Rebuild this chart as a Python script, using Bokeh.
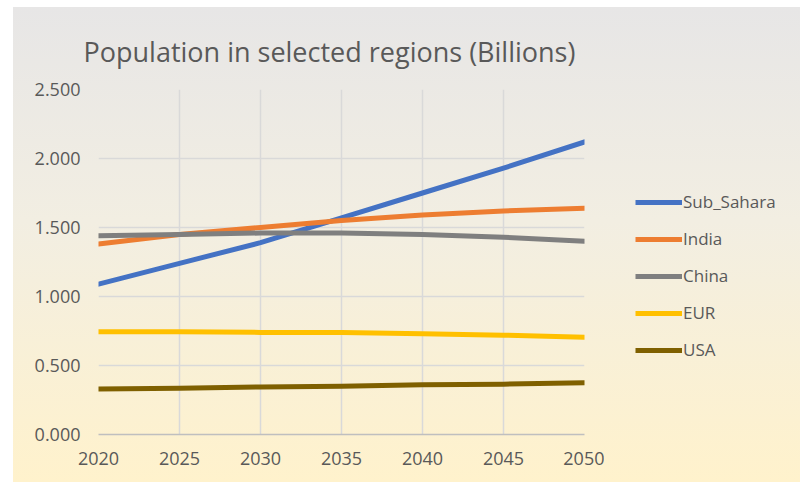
from bokeh.plotting import figure
from bokeh.layouts import row
from bokeh.models import Range1d, PrintfTickFormatter, FixedTicker, Legend, LegendItem
from bokeh.embed import file_html
from bokeh.resources import INLINE

years = [2020, 2025, 2030, 2035, 2040, 2045, 2050]
sub_sahara = [1.09, 1.24, 1.39, 1.57, 1.75, 1.93, 2.12]
india = [1.38, 1.45, 1.50, 1.55, 1.59, 1.62, 1.64]
china = [1.44, 1.45, 1.46, 1.46, 1.45, 1.43, 1.40]
eur = [0.745, 0.745, 0.74, 0.74, 0.73, 0.72, 0.705]
usa = [0.33, 0.335, 0.345, 0.35, 0.36, 0.365, 0.375]
series_names = ["Sub_Sahara", "India", "China", "EUR", "USA"]
colors = ["#4472C4", "#ED7D31", "#7F7F7F", "#FFC000", "#7F6000"]
y_ticks = [0, 0.5, 1.0, 1.5, 2.0, 2.5]
x_ticks = years

FONT = "Open Sans"
TXT = "#595959"
LW = 5

p = figure(width=591, height=475, output_backend="svg", toolbar_location=None,
           x_range=Range1d(2020, 2050), y_range=Range1d(0, 2.5),
           title="Population in selected regions (Billions)",
           min_border_left=85, min_border_right=20, min_border_top=82, min_border_bottom=48)
p.border_fill_alpha = 0
p.background_fill_alpha = 0
p.outline_line_color = None

p.title.text_font = FONT
p.title.text_font_size = "27px"
p.title.text_font_style = "normal"
p.title.text_color = TXT
p.title.align = "left"
p.title.offset = -15
p.title.standoff = 40

for vals, c in zip([sub_sahara, india, china, eur, usa], colors):
    p.line(years, vals, line_color=c, line_width=LW, line_cap="round", line_join="round")

p.xaxis.ticker = FixedTicker(ticks=x_ticks)
p.yaxis.ticker = FixedTicker(ticks=y_ticks)
p.yaxis.formatter = PrintfTickFormatter(format="%.3f")
for ax in (p.xaxis, p.yaxis):
    ax.major_tick_line_color = None
    ax.minor_tick_line_color = None
    ax.major_label_text_font = FONT
    ax.major_label_text_font_size = "18px"
    ax.major_label_text_color = TXT
p.yaxis.axis_line_color = None
p.xaxis.axis_line_color = "#BFBFBF"
p.xaxis.axis_line_width = 1.5
p.yaxis.major_label_standoff = 12
p.xaxis.major_label_standoff = 11

p.xgrid.grid_line_color = "#D9D9D9"
p.ygrid.grid_line_color = "#D9D9D9"
p.xgrid.grid_line_width = 1.5
p.ygrid.grid_line_width = 1.5

# legend panel (its lines lie outside its visible range; only their legend glyphs show)
q = figure(width=196, height=475, output_backend="svg", toolbar_location=None,
           x_axis_location=None, y_axis_location=None,
           x_range=Range1d(0, 1), y_range=Range1d(0, 1),
           min_border_left=0, min_border_right=0, min_border_top=0, min_border_bottom=0)
q.border_fill_alpha = 0
q.background_fill_alpha = 0
q.outline_line_color = None
q.xgrid.visible = False
q.ygrid.visible = False
items = []
for name, vals, c in zip(series_names, [sub_sahara, india, china, eur, usa], colors):
    r = q.line(x=years[:2], y=vals[:2], line_color=c, line_width=LW)
    items.append(LegendItem(label=name, renderers=[r]))
legend = Legend(items=items, location=(31, 73), orientation="vertical")
legend.background_fill_alpha = 0
legend.border_line_color = None
legend.padding = 0
legend.margin = 0
legend.spacing = 14
legend.glyph_width = 47
legend.glyph_height = 22
legend.label_height = 22
legend.label_standoff = 1
legend.label_text_font = FONT
legend.label_text_font_size = "17px"
legend.label_text_color = TXT
q.add_layout(legend, "center")

layout = row(p, q, spacing=0)
layout.styles = {"background": "linear-gradient(to bottom, #E7E6E6 0%, #F2EEE2 45%, #FFF2CC 100%)",
                 "margin-left": "13px", "margin-top": "7px"}

open("out.html", "w").write(file_html(layout, INLINE))
